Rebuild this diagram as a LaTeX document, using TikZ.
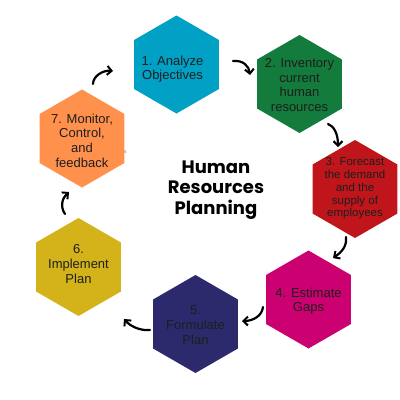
\documentclass[tikz,border=0pt]{standalone}
\usepackage{fontspec}
\setmainfont{Liberation Sans}
\newfontfamily\titlefont{Poppins}
\usetikzlibrary{shapes.geometric,arrows.meta}
\definecolor{hcyan}{HTML}{00A1C4}
\definecolor{hgreen}{HTML}{137B3B}
\definecolor{hred}{HTML}{C0161B}
\definecolor{hmag}{HTML}{CB0071}
\definecolor{hnavy}{HTML}{2C2A6C}
\definecolor{hyellow}{HTML}{D4B21A}
\definecolor{horange}{HTML}{FF914D}
\definecolor{htext}{HTML}{1E1E1E}
\tikzset{
  hexbox/.style={regular polygon, regular polygon sides=6, shape border rotate=30, minimum size=98pt, inner sep=0pt, draw=none, fill=#1},
  hextext/.style={text=htext, align=center, inner sep=0pt, font=\fontsize{13}{14.6}\selectfont},
  smalltext/.style={text=htext, align=center, inner sep=0pt, font=\fontsize{11.5}{12.7}\selectfont},
  cyc/.style={line width=2.2pt, -{Straight Barb[length=4.5pt,width=9pt,line width=2pt]}, line cap=round}
}
\begin{document}
\begin{tikzpicture}[x=1pt,y=-1pt]
\useasboundingbox (0,0) rectangle (400,400);
% hexagons
\node[hexbox=hcyan]   (h1) at (176.5,64.5) {};
\node[hexbox=hgreen]  (h2) at (299.5,84) {};
\node[hexbox=hred]    (h3) at (355,189) {};
\node[hexbox=hmag]    (h4) at (308.5,299.5) {};
\node[hexbox=hnavy]   (h5) at (195.5,324) {};
\node[hexbox=hyellow] (h6) at (78.5,267) {};
\node[hexbox=horange] (h7) at (82,138.5) {};
% texts
\node[hextext] (t1) at (172.5,69) {1. Analyze\\Objectives};
\node[hextext] (t2) at (299.5,85) {2. Inventory\\current\\human\\resources};
\node[smalltext] (t3) at (355,188.5) {3. Forecast\\the demand\\and the\\supply of\\employees};
\node[hextext] (t4) at (308.5,301) {4. Estimate\\Gaps};
\node[hextext] (t5) at (195.5,325) {5.\\Formulate\\Plan};
\node[hextext] (t6) at (78.5,264) {6.\\Implement\\Plan};
\node[hextext] (t7) at (82,140.5) {7. Monitor,\\Control,\\and\\feedback};
\node[text=gray, inner sep=0pt, font=\fontsize{5}{6}\selectfont] (s) at (125.5,152) {s};
% title
\node[align=center, inner sep=0pt, font=\titlefont\bfseries\fontsize{18}{20.5}\selectfont] (title) at (216,190) {Human\\Resources\\Planning};
% arrow end points
\coordinate (a1s) at (233,61);  \coordinate (a1e) at (250,75);
\coordinate (a2s) at (328,124); \coordinate (a2e) at (338,147);
\coordinate (a3s) at (346,237); \coordinate (a3e) at (333,258);
\coordinate (a4s) at (263,307); \coordinate (a4e) at (242,321);
\coordinate (a5s) at (150,330); \coordinate (a5e) at (124,319);
\coordinate (a6s) at (65,214);  \coordinate (a6e) at (69,192);
\coordinate (a7s) at (93,84);   \coordinate (a7e) at (113,71);
\draw[cyc] (a1s) .. controls (243,60) and (249,66) .. (a1e);
\draw[cyc] (a2s) .. controls (334,126) and (338,134) .. (a2e);
\draw[cyc] (a3s) .. controls (347,246) and (342,252) .. (a3e);
\draw[cyc] (a4s) .. controls (262,316) and (253,321) .. (a4e);
\draw[cyc] (a5s) .. controls (140,331) and (130,326) .. (a5e);
\draw[cyc] (a6s) .. controls (60,207) and (62,198) .. (a6e);
\draw[cyc] (a7s) .. controls (93,76) and (103,70) .. (a7e);
\end{tikzpicture}
\end{document}
